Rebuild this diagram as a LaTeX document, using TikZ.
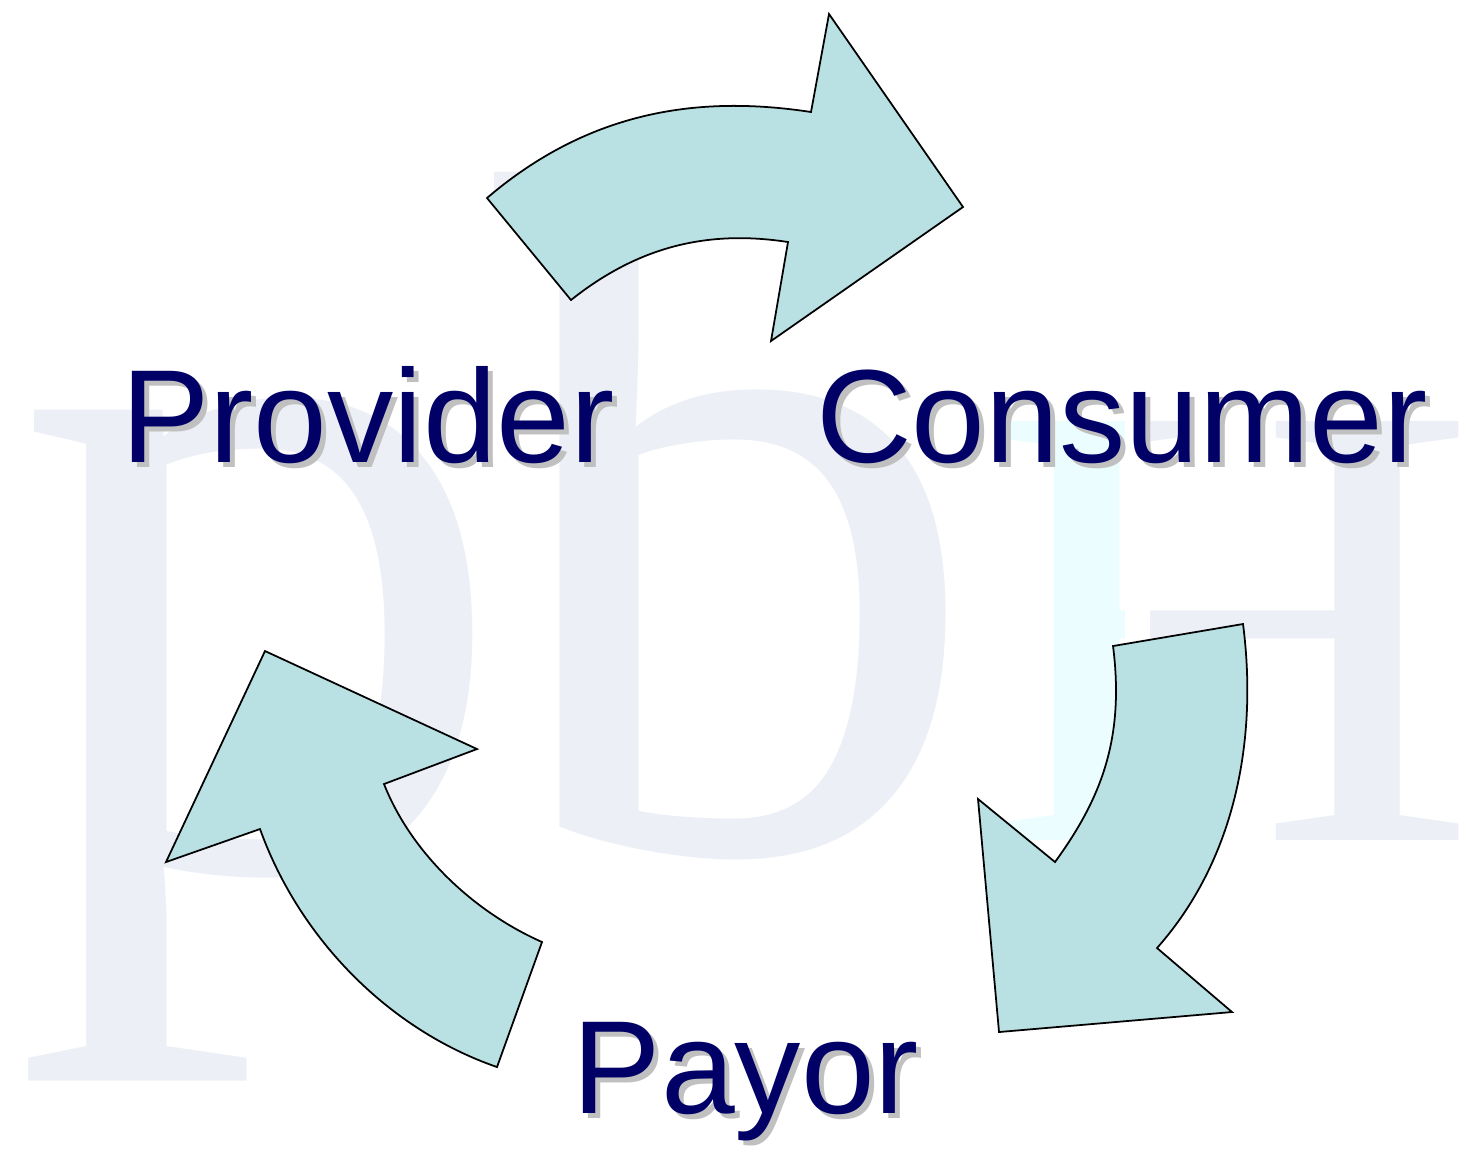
\documentclass[tikz,border=0pt]{standalone}
\usepackage{fontspec}
\usepackage{tikz}
\usepackage{xcolor}
\usetikzlibrary{positioning, calc}
\newfontfamily\labelfont{Liberation Sans}
\newfontfamily\markfont{Liberation Serif}
\definecolor{navy}{HTML}{000066}
\definecolor{shadowgray}{HTML}{C0C0C0}
\definecolor{arrowfill}{HTML}{B9E0E3}
\definecolor{markgray}{HTML}{ECF0F6}
\definecolor{markcyan}{HTML}{EBFDFE}

\begin{document}
\begin{tikzpicture}[x=0.01cm, y=-0.01cm,
    cyclearrow/.style={draw=black, line width=0.5pt, fill=arrowfill, line join=miter},
    party/.style={font={\labelfont\fontsize{37.7pt}{40pt}\selectfont}, text=navy, inner sep=0pt, anchor=base},
    partyshadow/.style={party, text=shadowgray},
    letter/.style={font={\markfont\fontsize{284pt}{290pt}\selectfont}, text=markgray, inner sep=0pt, anchor=base west},
    bigH/.style={font={\markfont\fontsize{182pt}{190pt}\selectfont}, text=markgray, inner sep=0pt, anchor=base west, xscale=1.09, transform shape}]
    \useasboundingbox (0,0) rectangle (1480,1153);
    % watermark
    \node[letter] (wp) at (12,868) {p};
    \node[letter, font={\markfont\fontsize{278pt}{290pt}\selectfont}] (wb) at (494,850) {b};
    \begin{scope}
        \clip (1150,300) rectangle (1480,900);
        \node[bigH] (wH) at (975,840) {H};
    \end{scope}
    \begin{scope}
        \clip (900,300) rectangle (1124,900);
        \node[bigH, text=markcyan] (wHstem) at (975,840) {H};
    \end{scope}
    % arrows
    \draw[cyclearrow] (487,198) .. controls (590,110) and (700,95) .. (811,112)
        -- (829,14) -- (963,207) -- (771,341) -- (788,242)
        .. controls (710,230) and (640,245) .. (571,300) -- cycle;
    \draw[cyclearrow] (1243,624) .. controls (1258,740) and (1235,860) .. (1157,948)
        -- (1232,1012) -- (999,1032) -- (978,799) -- (1055,862)
        .. controls (1100,800) and (1125,740) .. (1113,646) -- cycle;
    \draw[cyclearrow] (497,1067) .. controls (390,1030) and (300,940) .. (260,829)
        -- (166,862) -- (265,651) -- (477,749) -- (384,784)
        .. controls (410,850) and (470,910) .. (542,942) -- cycle;
    % labels
    \node[partyshadow] (provshadow) at (373,467) {Provider};
    \node[partyshadow] (conshadow) at (1127,467) {Consumer};
    \node[partyshadow] (payshadow) at (751,1118) {Payor};
    \node[party] (provider) at (368,462) {Provider};
    \node[party] (consumer) at (1122,462) {Consumer};
    \node[party] (payor) at (746,1113) {Payor};
\end{tikzpicture}
\end{document}
